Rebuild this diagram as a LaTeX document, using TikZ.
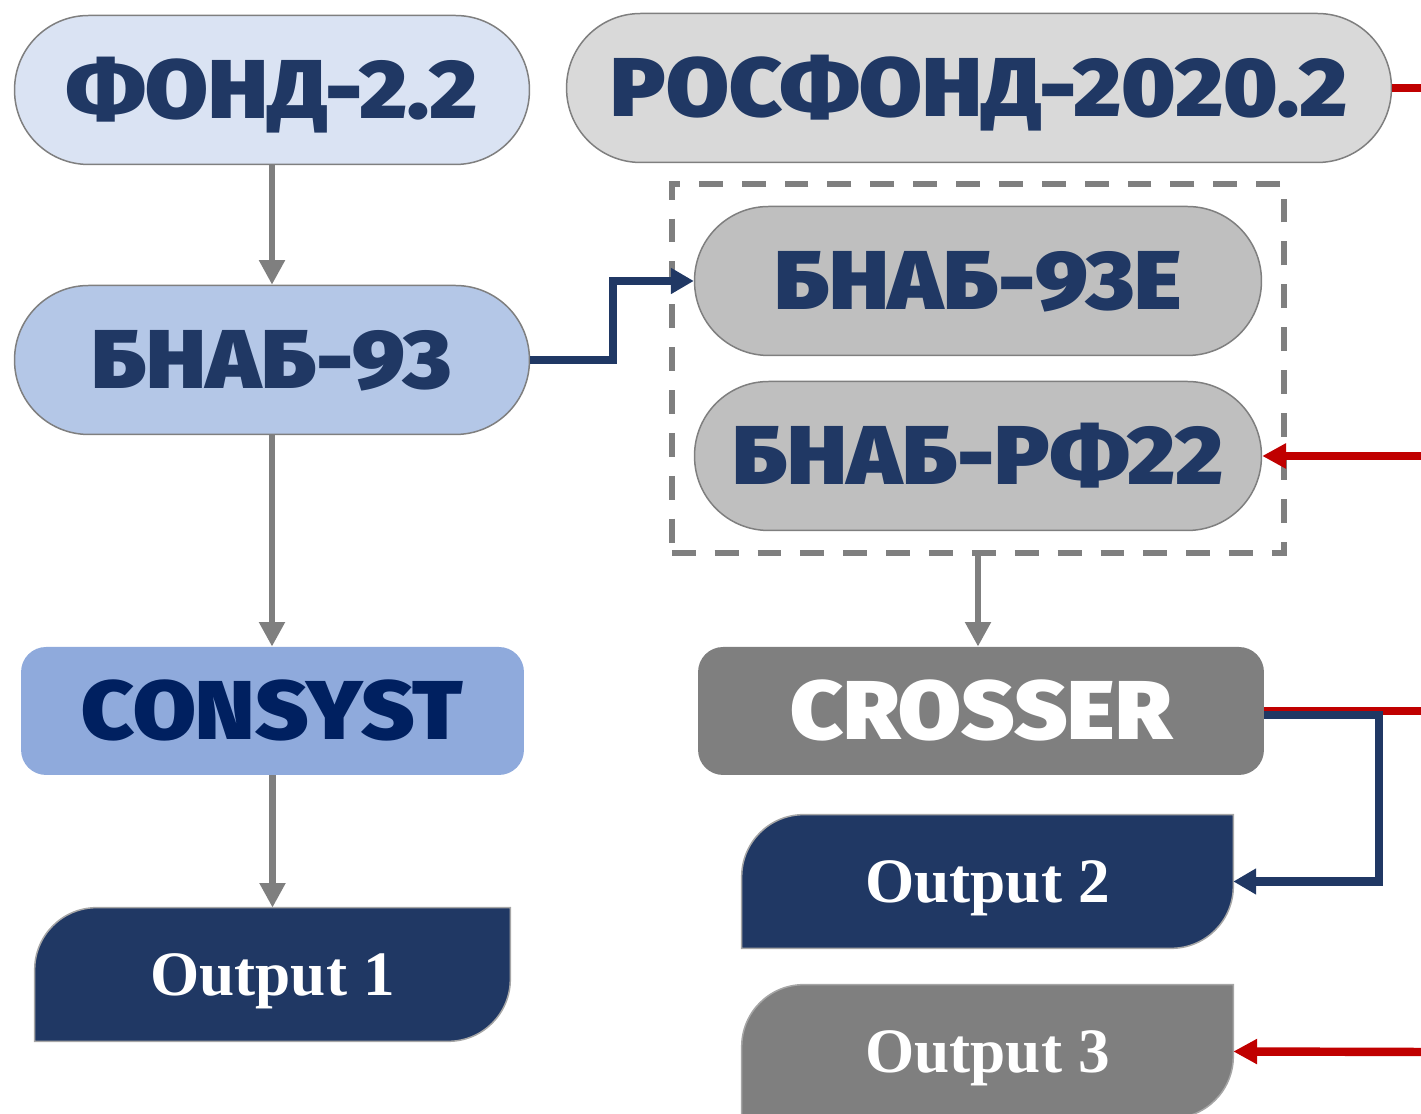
\documentclass[tikz,border=0pt]{standalone}
\usepackage{fontspec}
\setmainfont{Liberation Serif}
\newfontfamily\hdfont{Fira Sans Black}[FakeStretch=1.09]
\usetikzlibrary{arrows.meta,fit,backgrounds}
\definecolor{navy}{HTML}{203864}
\definecolor{constext}{HTML}{002060}
\definecolor{edgegray}{HTML}{7F7F7F}
\definecolor{fondblue}{HTML}{DAE3F3}
\definecolor{bnabblue}{HTML}{B4C7E7}
\definecolor{consblue}{HTML}{8FAADC}
\definecolor{rosgray}{HTML}{D9D9D9}
\definecolor{bnabgray}{HTML}{BFBFBF}
\definecolor{midgray}{HTML}{7F7F7F}
\definecolor{redline}{HTML}{C00000}

\begin{document}
\begin{tikzpicture}[x=0.02cm,y=0.02cm]
\tikzset{
  pill/.style={draw=edgegray,line width=0.85pt,rounded corners=1.48cm,minimum width=#1,minimum height=2.98cm,inner sep=0pt,font=\hdfont\fontsize{47.5}{47.5}\selectfont,text height=32pt,text depth=0pt,text=navy},
  block/.style={rounded corners=0.5cm,minimum width=#1,minimum height=2.56cm,inner sep=0pt,font=\hdfont\fontsize{47.5}{47.5}\selectfont,text height=32pt,text depth=0pt},
  outbox/.style={minimum width=#1,minimum height=2.66cm,inner sep=0pt,text=white,font=\bfseries\fontsize{36}{36}\selectfont,text height=24pt,text depth=0pt},
  grayarrow/.style={draw=midgray,line width=3.9pt,-{Triangle[length=14pt,width=14pt]}},
  navyarrow/.style={draw=navy,line width=4.6pt,-{Triangle[length=13pt,width=14pt]}},
  redarrow/.style={draw=redline,line width=4.8pt,-{Triangle[length=13.6pt,width=13.6pt]}},
  redwire/.style={draw=redline,line width=4.8pt}
}
\useasboundingbox (0,0) rectangle (1421,1114);
% libraries and codes
\node[pill=10.3cm,fill=fondblue] (n_fond) at (272,1024) {ФОНД-2.2};
\node[pill=16.5cm,fill=rosgray] (n_rosfond) at (979,1026) {РОСФОНД-2020.2};
\node[pill=10.3cm,fill=bnabblue] (n_bnab) at (272,754) {БНАБ-93};
\node[pill=11.34cm,fill=bnabgray] (n_bnabe) at (978,833) {БНАБ-93Е};
\node[pill=11.34cm,fill=bnabgray] (n_bnabrf) at (978,658) {БНАБ-РФ22};
\node[fit=(n_bnabe)(n_bnabrf),inner sep=0.44cm,draw=midgray,line width=3.6pt,dash pattern=on 13.6pt off 10.8pt] (n_lib) {};
\node[block=10.06cm,fill=consblue,text=constext] (n_consyst) at (272.5,403) {CONSYST};
\node[block=11.32cm,fill=midgray,text=white] (n_crosser) at (981,403) {CROSSER};
% outputs
\node[outbox=9.5cm] (n_out1) at (272.5,139.5) {Output 1};
\node[outbox=9.82cm] (n_out2) at (987.5,232.5) {Output 2};
\node[outbox=9.82cm] (n_out3) at (987.5,62.5) {Output 3};
\begin{scope}[on background layer]
\foreach \o/\c in {n_out1/navy,n_out2/navy,n_out3/midgray}
  \filldraw[fill=\c,draw=gray!70,line width=0.85pt] (\o.south west) -- ([yshift=-1.24cm]\o.north west)
    arc[start angle=180,end angle=90,radius=1.24cm] -- (\o.north east)
    -- ([yshift=1.24cm]\o.south east) arc[start angle=0,end angle=-90,radius=1.24cm] -- cycle;
\end{scope}
% free ends at the right edge
\coordinate (e_ros) at (1421,1026);
\coordinate (e_rf) at (1421,658);
\coordinate (e_cross) at (1421,403);
\coordinate (e_out3) at (1421,62);
% connectors
\draw[grayarrow] (n_fond.south) -- (n_bnab.north);
\draw[grayarrow] (n_bnab.south) -- (n_bnab.south |- n_consyst.north);
\draw[grayarrow] (n_consyst.south) -- (n_consyst.south |- n_out1.north);
\draw[grayarrow] (n_lib.south) -- (n_lib.south |- n_crosser.north);
\draw[navyarrow] (n_bnab.east) -- ++(83,0) |- (n_bnabe.west);
\draw[redwire] (n_rosfond.east) -- (e_ros);
\draw[redarrow] (e_rf) -- (n_bnabrf.east);
\draw[redwire] (n_crosser.east) -- (e_cross);
\draw[navyarrow] ([yshift=-0.08cm]n_crosser.east) -- ++(115,0) |- (n_out2.east);
\draw[redarrow] (e_out3) -- (n_out3.east);
\end{tikzpicture}
\end{document}
